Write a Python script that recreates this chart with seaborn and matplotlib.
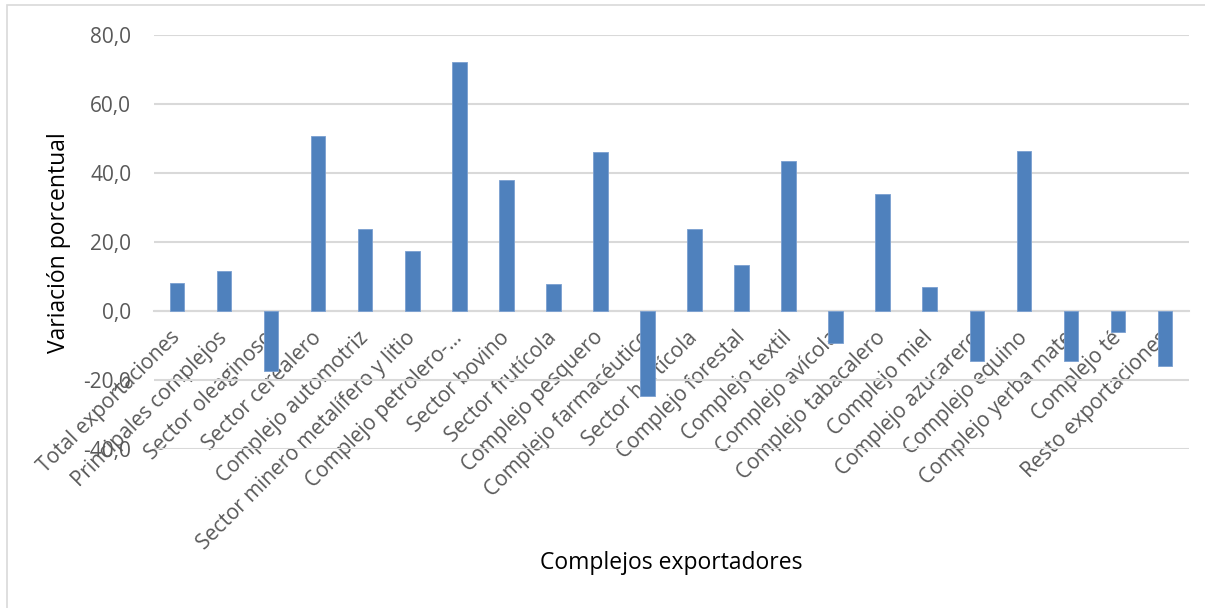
import matplotlib
matplotlib.use("Agg")
import matplotlib.pyplot as plt
import seaborn as sns
import pandas as pd
from matplotlib.patches import Rectangle
from matplotlib.ticker import FuncFormatter

categories = ["Total exportaciones", "Principales complejos", "Sector oleaginoso",
              "Sector cerealero", "Complejo automotriz", "Sector minero metalífero y litio",
              "Complejo petrolero-…", "Sector bovino", "Sector frutícola", "Complejo pesquero",
              "Complejo farmacéutico", "Sector hortícola", "Complejo forestal", "Complejo textil",
              "Complejo avícola", "Complejo tabacalero", "Complejo miel", "Complejo azucarero",
              "Complejo equino", "Complejo yerba mate", "Complejo té", "Resto exportaciones"]
values = [8.2, 11.5, -17.3, 50.8, 23.7, 17.3, 72.3, 38.0, 7.7, 46.2,
          -24.5, 23.9, 13.2, 43.6, -9.3, 33.9, 7.1, -14.4, 46.4, -14.4, -6.1, -15.8]
yticks = [-40, -20, 0, 20, 40, 60, 80]

sns.set_style("white")
plt.rcParams['font.family'] = ['Open Sans', 'DejaVu Sans']

df = pd.DataFrame({"cat": categories, "val": values})

fig = plt.figure(figsize=(12.05, 6.08), dpi=100)
ax = fig.add_axes([153.5/1205, 1-449/608, (1188.5-153.5)/1205, (449-35)/608])

sns.barplot(data=df, x="cat", y="val", color="#4f81bd", saturation=1, width=0.31,
            edgecolor="#7a9fd0", linewidth=0.6, ax=ax, zorder=3)

ax.set_ylim(-40, 80)
ax.set_xlim(-0.5, len(categories) - 0.5)
ax.set_yticks(yticks)
ax.yaxis.set_major_formatter(FuncFormatter(lambda v, p: f"{v:.1f}".replace(".", ",")))
ax.grid(axis="y", color="#d9d9d9", linewidth=1.5, zorder=0)
ax.set_axisbelow(True)

for s in ["top", "right", "left"]:
    ax.spines[s].set_visible(False)
ax.spines["bottom"].set_position(("data", 0))
ax.spines["bottom"].set_color("#d9d9d9")
ax.spines["bottom"].set_linewidth(1.5)
ax.spines["bottom"].set_zorder(2)

ax.tick_params(axis="y", length=0, pad=16, labelsize=15, labelcolor="#595959")
ax.tick_params(axis="x", length=0, pad=17, labelsize=15, labelcolor="#595959")
ax.set_xticks(range(len(categories)))
ax.set_xticklabels(categories, rotation=45, ha="right", va="center", rotation_mode="anchor")

ax.set_xlabel("")
ax.set_ylabel("")
fig.text(59/1205, 1-243/608, "Variación porcentual", fontsize=16.5, color="black",
         ha="center", va="center", rotation=90)
fig.text(671/1205, 1-563/608, "Complejos exportadores", fontsize=16.5, color="black",
         ha="center", va="center")

fig.patches.append(Rectangle((7/1205, -0.05), 1.1, 1-5/608+0.05, transform=fig.transFigure,
                             fill=False, edgecolor="#d9d9d9", linewidth=1.2))

fig.savefig("out.png", dpi=100)
